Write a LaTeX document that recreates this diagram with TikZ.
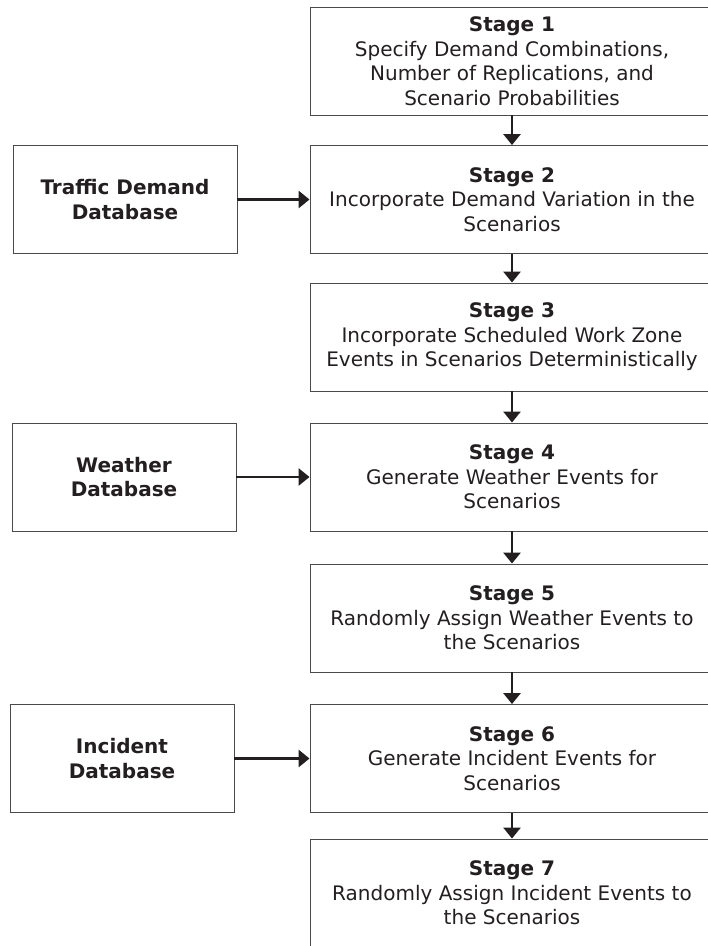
\documentclass[tikz,border=0pt]{standalone}
\usepackage{fontspec}
\setmainfont{DejaVu Sans}
\usepackage{xcolor}
\usetikzlibrary{arrows.meta}
\definecolor{inkgray}{HTML}{231F20}
\definecolor{boxgray}{HTML}{4A4A4A}

\begin{document}
\begin{tikzpicture}[x=1pt, y=1pt,
    font=\fontsize{20}{24.5}\selectfont,
    stagebox/.style={draw=boxgray, line width=0.9pt, minimum width=404pt, minimum height=108pt, align=center, inner sep=2pt, text=inkgray},
    dbbox/.style={draw=boxgray, line width=0.9pt, minimum width=224pt, minimum height=108pt, align=center, text=inkgray, font=\fontsize{20}{24.5}\selectfont\bfseries},
    flow/.style={draw=inkgray, line width=2.8pt, -{Triangle[length=11pt, width=17pt]}}]
            \useasboundingbox (0,0) rectangle (708,-946);

            \draw (512,-61) node[stagebox]    (s1) {\textbf{Stage 1}\\Specify Demand Combinations,\\Number of Replications, and\\Scenario Probabilities};
            \draw (512,-199.5) node[stagebox] (s2) {\textbf{Stage 2}\\Incorporate Demand Variation in the\\Scenarios};
            \draw (512,-337) node[stagebox]   (s3) {\textbf{Stage 3}\\Incorporate Scheduled Work Zone\\Events in Scenarios Deterministically};
            \draw (512,-477) node[stagebox]   (s4) {\textbf{Stage 4}\\Generate Weather Events for\\Scenarios};
            \draw (512,-618) node[stagebox]   (s5) {\textbf{Stage 5}\\Randomly Assign Weather Events to\\the Scenarios};
            \draw (512,-758.5) node[stagebox] (s6) {\textbf{Stage 6}\\Generate Incident Events for\\Scenarios};
            \draw (512,-893) node[stagebox]   (s7) {\textbf{Stage 7}\\Randomly Assign Incident Events to\\the Scenarios};

            \draw (125,-199.5) node[dbbox]    (tdb) {Traffic Demand\\Database};
            \draw (124,-477) node[dbbox]      (wdb) {Weather\\Database};
            \draw (122,-758.5) node[dbbox]    (idb) {Incident\\Database};

            \draw[flow] (s1) -- (s2);
            \draw[flow] (s2) -- (s3);
            \draw[flow] (s3) -- (s4);
            \draw[flow] (s4) -- (s5);
            \draw[flow] (s5) -- (s6);
            \draw[flow] (s6) -- (s7);
            \draw[flow] (tdb) -- (s2);
            \draw[flow] (wdb) -- (s4);
            \draw[flow] (idb) -- (s6);

\end{tikzpicture}
\end{document}
